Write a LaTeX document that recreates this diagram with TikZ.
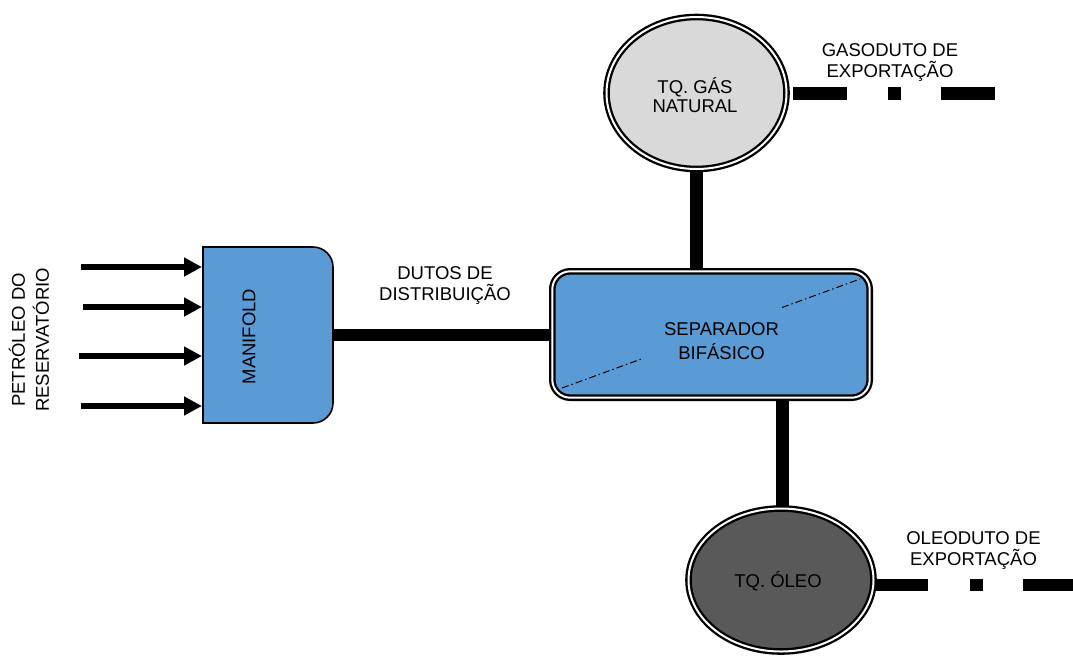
\documentclass[tikz,border=0pt]{standalone}
\usepackage{fontspec}
\setmainfont{Liberation Sans}
\usetikzlibrary{shapes.geometric,arrows.meta,calc,backgrounds}

\definecolor{unitblue}{HTML}{5B9BD5}
\definecolor{gaslight}{HTML}{D9D9D9}
\definecolor{oildark}{HTML}{595959}

\tikzset{
  txt/.style={align=center, inner sep=0pt, font=\fontsize{18.5}{21}\selectfont},
  tankshape/.style={ellipse, draw=black, line width=2.3pt, double=white,
    double distance=2pt, inner sep=0pt, outer sep=0pt},
  vesselbox/.style={rectangle, rounded corners=18pt, draw=black, fill=unitblue,
    line width=2.3pt, double=white, double distance=2pt, inner sep=0pt, outer sep=0pt},
  manifoldbox/.style={draw=black, fill=unitblue, line width=1.6pt},
  pipe/.style={line width=12.5pt, black, line cap=butt},
  exportline/.style={line width=12.5pt, black, line cap=butt},
  feedarrow/.style={line width=6.5pt, black, -{Triangle[length=18pt,width=18pt]}},
  levelline/.style={line width=1pt, black, dash pattern=on 7pt off 3pt on 1.5pt off 3pt}
}

\begin{document}
\begin{tikzpicture}[x=1pt,y=-1pt]
\useasboundingbox (0,0) rectangle (1073,657);

% manifold body: square on the inlet side, rounded on the outlet side
\node[minimum width=130pt, minimum height=176pt, inner sep=0pt, outer sep=0pt] (manifold) at (268,335) {};
\draw[manifoldbox] (manifold.south west) -- (manifold.north west)
  -- ([xshift=-20pt]manifold.north east)
  .. controls ([xshift=-9pt]manifold.north east) and ([yshift=-9pt]manifold.north east) .. ([yshift=-20pt]manifold.north east)
  -- ([yshift=20pt]manifold.south east)
  .. controls ([yshift=9pt]manifold.south east) and ([xshift=-9pt]manifold.south east) .. ([xshift=-20pt]manifold.south east)
  -- cycle;
\node[txt, rotate=90] (manifoldlabel) at (249,336.5) {MANIFOLD};

% two-phase separator
\node[vesselbox, minimum width=317.4pt, minimum height=126.4pt] (sep) at (711,334.5) {};
\coordinate (lvlA) at (562,388);
\coordinate (lvlB) at (860,279);
\draw[levelline] (lvlA) -- ($(lvlA)!0.272!(lvlB)$);
\draw[levelline] ($(lvlA)!0.738!(lvlB)$) -- (lvlB);
\node[txt, font=\fontsize{18.5}{23.3}\selectfont] (seplabel) at (721.5,341) {SEPARADOR\\BIFÁSICO};

% storage tanks
\node[tankshape, fill=gaslight, minimum width=180pt, minimum height=152pt] (gas) at (696.5,93) {};
\node[txt, font=\fontsize{18.5}{19}\selectfont] (gaslabel) at (695,95) {TQ. GÁS\\NATURAL};
\node[tankshape, fill=oildark, minimum width=185pt, minimum height=143pt] (oil) at (781,580) {};
\node[txt] (oillabel) at (778,581) {TQ. ÓLEO};

% pipes between the units
\begin{scope}[on background layer]
  \draw[pipe] (manifold.east) -- (manifold.east -| sep.west);
  \draw[pipe] (gas.south) -- (gas.south |- sep.north);
  \draw[pipe] ([xshift=1.5pt]oil.north) -- ([xshift=1.5pt]oil.north |- sep.south);
\end{scope}

% export lines
\coordinate (gasend) at (995,93.5);
\draw[exportline, dash pattern=on 54pt off 41pt on 13pt off 40pt]
  ([xshift=6.5pt,yshift=-0.5pt]gas.east) -- (gasend);
\coordinate (oilend) at (1073,585);
\draw[exportline, dash pattern=on 53pt off 42pt on 13pt off 40pt]
  ([xshift=1.5pt,yshift=-5pt]oil.east) -- (oilend);

% reservoir inflow
\coordinate (in1) at (81,267);
\coordinate (in2) at (83,307);
\coordinate (in3) at (79,356);
\coordinate (in4) at (81,406);
\foreach \c in {in1,in2,in3,in4}
  \draw[feedarrow] (\c) -- ([xshift=-1pt]manifold.west |- \c);

% labels
\node[txt, rotate=90, font=\fontsize{18.5}{24}\selectfont] (reslabel) at (29,340) {PETRÓLEO DO\\RESERVATÓRIO};
\node[txt, font=\fontsize{18.5}{20.5}\selectfont] (ductlabel) at (445,285.5) {DUTOS DE\\DISTRIBUIÇÃO};
\node[txt] (gaslinelabel) at (890,62.8) {GASODUTO DE\\EXPORTAÇÃO};
\node[txt, font=\fontsize{18.5}{20.7}\selectfont] (oillinelabel) at (973.5,550.6) {OLEODUTO DE\\EXPORTAÇÃO};
\end{tikzpicture}
\end{document}
